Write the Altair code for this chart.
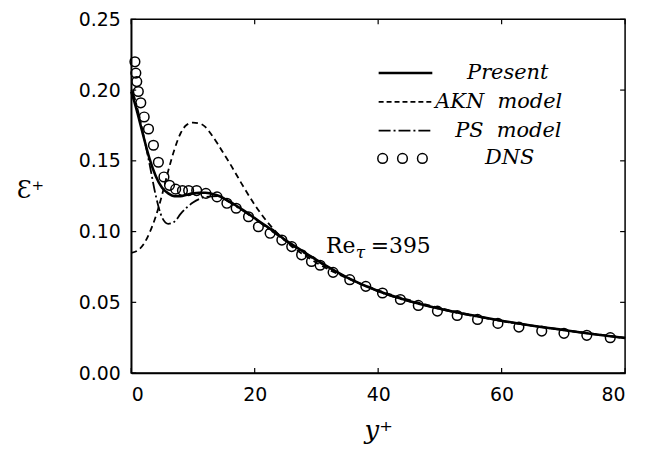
import altair as alt
import pandas as pd

# ---------------- data ----------------
present_x = [0, 0.5, 1, 2, 3, 4, 5, 6, 7, 8, 9, 10, 11, 12, 13, 14, 16, 18, 20, 22, 25, 28, 30, 35, 40, 45, 50, 55, 60, 65, 70, 75, 80]
present_y = [0.199, 0.192, 0.184, 0.167, 0.151, 0.139, 0.131, 0.127, 0.125, 0.125, 0.126, 0.127, 0.1275, 0.1275, 0.1268, 0.1255, 0.121, 0.1155, 0.1095, 0.1035, 0.094, 0.0855, 0.080, 0.0675, 0.058, 0.051, 0.0455, 0.041, 0.037, 0.0335, 0.0305, 0.0275, 0.0248]

akn_x = [0, 1, 2, 3, 4, 5, 6, 7, 8, 9, 10, 11, 12, 13, 14, 15, 16, 17, 18, 20, 22, 24, 26, 28, 30, 35, 40, 50, 60, 70, 80]
akn_y = [0.085, 0.0865, 0.091, 0.0995, 0.111, 0.126, 0.143, 0.158, 0.1695, 0.1755, 0.177, 0.1765, 0.174, 0.1685, 0.162, 0.155, 0.148, 0.1405, 0.133, 0.119, 0.107, 0.0975, 0.0895, 0.0835, 0.078, 0.067, 0.0585, 0.046, 0.037, 0.0305, 0.025]

ps_x = [0, 0.5, 1, 2, 3, 4, 5, 6, 7, 8, 9, 10, 11, 12, 14, 16, 18, 20, 25, 30, 40, 50, 60, 70, 80]
ps_y = [0.200, 0.195, 0.187, 0.168, 0.147, 0.125, 0.110, 0.1055, 0.107, 0.1125, 0.117, 0.1205, 0.123, 0.1245, 0.125, 0.1205, 0.115, 0.109, 0.0935, 0.0795, 0.0578, 0.0453, 0.0368, 0.0303, 0.0247]

dns_x = [0.6, 0.75, 0.9, 1.15, 1.55, 2.1, 2.8, 3.6, 4.4, 5.3, 6.2, 7.2, 8.3, 9.3, 10.6, 12.1, 13.9, 15.5, 17.0, 19.0, 20.6, 22.5, 24.4, 26.0, 27.6, 29.2, 30.6, 32.7, 35.4, 38.0, 40.7, 43.6, 46.5, 49.6, 52.8, 56.1, 59.4, 62.8, 66.5, 70.1, 73.8, 77.6]
dns_y = [0.220, 0.212, 0.206, 0.199, 0.191, 0.181, 0.1725, 0.161, 0.149, 0.1386, 0.1327, 0.130, 0.129, 0.129, 0.129, 0.127, 0.1245, 0.120, 0.1165, 0.1105, 0.1034, 0.0988, 0.094, 0.0894, 0.0836, 0.0789, 0.0762, 0.0712, 0.066, 0.0613, 0.0566, 0.052, 0.0478, 0.0438, 0.0407, 0.0379, 0.0351, 0.0325, 0.0297, 0.0281, 0.0267, 0.025]

legend_labels = ["Present", "AKN  model", "PS  model", "DNS"]
x_ticks = [0, 20, 40, 60, 80]
y_ticks = [0.0, 0.05, 0.10, 0.15, 0.20, 0.25]
annotation = ["Re", "τ", "=395"]

W, H = 497, 356
SERIF = "DejaVu Serif"
SANS = "DejaVu Sans"

present = pd.DataFrame({"x": present_x, "y": present_y})
akn = pd.DataFrame({"x": akn_x, "y": akn_y})
ps = pd.DataFrame({"x": ps_x, "y": ps_y})
dns = pd.DataFrame({"x": dns_x, "y": dns_y})
xt = pd.DataFrame({"x": x_ticks})
yt = pd.DataFrame({"y": y_ticks})

xs = alt.Scale(domain=[0, 80], nice=False, zero=False)
ys = alt.Scale(domain=[0, 0.25], nice=False, zero=False)

x_axis = alt.Axis(values=x_ticks, format="d", title="y⁺", grid=False, ticks=False,
                  domainColor="black", domainWidth=1.5,
                  labelFont=SANS, labelFontSize=19, labelColor="black", labelPadding=13,
                  titleFont=SERIF, titleFontStyle="italic", titleFontWeight="normal", titleFontSize=26,
                  titleColor="black", titleBaseline="middle", titleY=58)
y_axis = alt.Axis(values=y_ticks, format=".2f", title="Ɛ⁺", grid=False, ticks=False,
                  domainColor="black", domainWidth=1.5,
                  labelFont=SANS, labelFontSize=19, labelColor="black", labelPadding=11,
                  titleFont=SERIF, titleFontWeight="normal", titleFontSize=24, titleColor="black",
                  titleAngle=0, titleAlign="center", titleBaseline="middle", titleX=-102, titleY=172)

present_line = alt.Chart(present).mark_line(color="black", strokeWidth=2.6, interpolate="monotone").encode(
    x=alt.X("x:Q", scale=xs, axis=x_axis),
    y=alt.Y("y:Q", scale=ys, axis=y_axis),
)
akn_line = alt.Chart(akn).mark_line(color="black", strokeWidth=1.8, strokeDash=[6, 4], interpolate="monotone").encode(
    x=alt.X("x:Q", scale=xs), y=alt.Y("y:Q", scale=ys))
ps_line = alt.Chart(ps).mark_line(color="black", strokeWidth=1.8, strokeDash=[11, 3, 2, 3], interpolate="monotone").encode(
    x=alt.X("x:Q", scale=xs), y=alt.Y("y:Q", scale=ys))
dns_pts = alt.Chart(dns).mark_point(shape="circle", filled=False, color="black", size=95, strokeWidth=1.5, opacity=1).encode(
    x=alt.X("x:Q", scale=xs), y=alt.Y("y:Q", scale=ys))

# inward tick marks on all four sides
TK = 5
tick_bottom = alt.Chart(xt).mark_rule(color="black", strokeWidth=1.2).encode(
    x=alt.X("x:Q", scale=xs), y=alt.value(H - TK), y2=alt.value(H))
tick_top = alt.Chart(xt).mark_rule(color="black", strokeWidth=1.2).encode(
    x=alt.X("x:Q", scale=xs), y=alt.value(0), y2=alt.value(TK))
tick_left = alt.Chart(yt).mark_rule(color="black", strokeWidth=1.2).encode(
    y=alt.Y("y:Q", scale=ys), x=alt.value(0), x2=alt.value(TK))
tick_right = alt.Chart(yt).mark_rule(color="black", strokeWidth=1.2).encode(
    y=alt.Y("y:Q", scale=ys), x=alt.value(W - TK), x2=alt.value(W))

# ---------------- manual legend (layout in pixels) ----------------
leg_df = pd.DataFrame({"label": [s.replace("  ", "\u00a0\u00a0") for s in legend_labels],
                       "key": legend_labels})
rows_y = [54, 83, 112, 140]
text_x = [338, 306, 326, 356]
dashes = [None, [5, 3], [12, 3, 2, 3]]
legend_layers = []
for i, lab in enumerate(legend_labels):
    sub = leg_df[leg_df.key == lab]
    t = alt.Chart(sub).mark_text(
        font=SERIF, fontStyle="italic", fontSize=21, align="left", baseline="middle", color="black"
    ).encode(text="label:N", x=alt.value(text_x[i]), y=alt.value(rows_y[i]))
    legend_layers.append(t)
    if i < 3:
        kw = dict(color="black", strokeWidth=2.6 if i == 0 else 1.8)
        if dashes[i] is not None:
            kw["strokeDash"] = dashes[i]
        r = alt.Chart(sub).mark_rule(**kw).encode(
            x=alt.value(249), x2=alt.value(303), y=alt.value(rows_y[i]))
        legend_layers.append(r)
    else:
        for cx in [253, 273, 293]:
            p = alt.Chart(sub).mark_point(
                shape="circle", filled=False, color="black", size=95, strokeWidth=1.5, opacity=1
            ).encode(x=alt.value(cx), y=alt.value(rows_y[i]))
            legend_layers.append(p)

# ---------------- annotation Re_tau = 395 ----------------
ann_df = pd.DataFrame({"t": annotation})
ann_re = alt.Chart(ann_df[ann_df.t == "Re"]).mark_text(
    font=SERIF, fontSize=22, align="left", baseline="alphabetic", color="black"
).encode(text="t:N", x=alt.value(196), y=alt.value(235))
ann_tau = alt.Chart(ann_df[ann_df.t == "τ"]).mark_text(
    font=SERIF, fontStyle="italic", fontSize=17, align="left", baseline="alphabetic", color="black"
).encode(text="t:N", x=alt.value(226), y=alt.value(240))
ann_val = alt.Chart(ann_df[ann_df.t == "=395"]).mark_text(
    font=SERIF, fontSize=22, align="left", baseline="alphabetic", color="black"
).encode(text="t:N", x=alt.value(241), y=alt.value(235))

chart = alt.layer(
    akn_line, ps_line, present_line, dns_pts, tick_bottom, tick_top, tick_left, tick_right,
    *legend_layers, ann_re, ann_tau, ann_val
).properties(
    width=W, height=H,
    autosize=alt.AutoSizeParams(type="none"),
    padding={"left": 124, "top": 10, "right": 14, "bottom": 76},
    background="white",
).configure_view(stroke="black", strokeWidth=1.5)

chart.save("out.html", embed_options={"renderer": "svg", "actions": False})
